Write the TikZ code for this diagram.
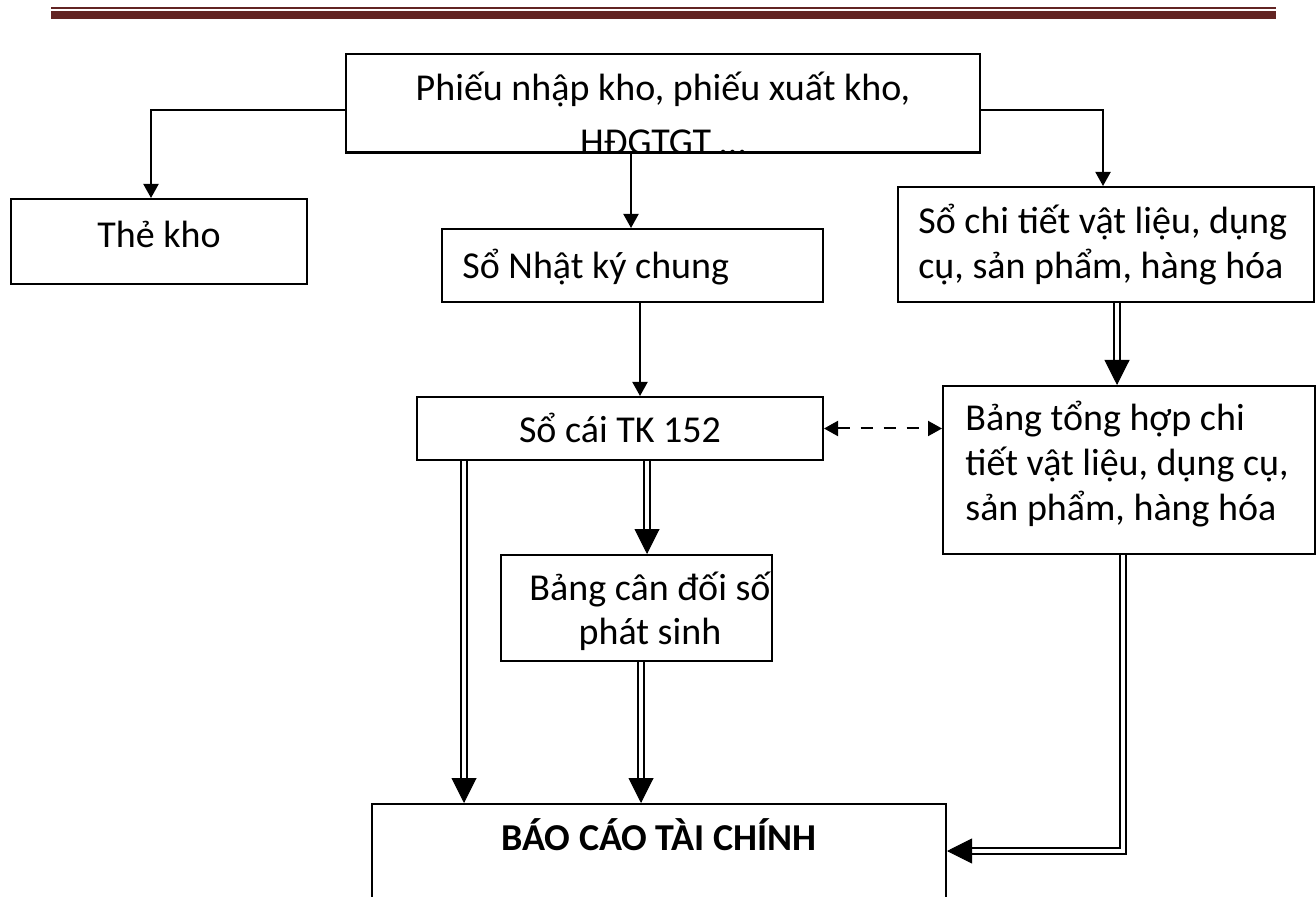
\documentclass[tikz,border=0pt]{standalone}
\usepackage{fontspec}
\setmainfont{Carlito}
\usetikzlibrary{arrows.meta}
\definecolor{rulecol}{RGB}{98,36,35}
\tikzset{
  box/.style={draw, line width=1pt, inner sep=0pt},
  txt/.style={inner sep=0pt, font=\fontsize{19pt}{23pt}\selectfont},
  arr/.style={line width=1pt, -{Triangle[length=7pt,width=7.5pt]}},
  dbl/.style={double, line width=1.1pt, double distance=1.7pt, shorten >=11pt},
  headD/.style={line width=0.5pt, -{Triangle[length=12.5pt,width=12.5pt]}},
  dsh/.style={line width=1pt, dash pattern=on 6pt off 5.5pt,
    {Triangle[length=7pt,width=7.5pt]}-{Triangle[length=7pt,width=7.5pt]}},
}
\begin{document}
\begin{tikzpicture}[x=0.5pt,y=-0.5pt]
\clip (0,0) rectangle (1316,897);
\fill[white] (0,0) rectangle (1316,897);
% header rule
\fill[rulecol] (51,7) rectangle (1276,9);
\fill[rulecol] (51,11) rectangle (1276,19.5);

% boxes
\node[box, minimum width=317pt, minimum height=49pt] (top) at (663,103) {};
\node[box, minimum width=148pt, minimum height=42.5pt] (the) at (159,241.5) {};
\node[box, minimum width=190.5pt, minimum height=36.5pt] (nkc) at (632.5,265.5) {};
\node[box, minimum width=208pt, minimum height=57.5pt] (sct) at (1106,244.5) {};
\node[box, minimum width=203pt, minimum height=31.5pt] (sc) at (620,428.5) {};
\node[box, minimum width=186pt, minimum height=84pt] (bth) at (1129,470) {};
\node[box, minimum width=135.5pt, minimum height=53pt] (bcd) at (636.5,608) {};
\node[box, minimum width=287pt, minimum height=66pt] (bctc) at (659,870) {};

% texts (the second line of the top box runs past its lower edge)
\begin{scope}
  \clip (top.south west) rectangle (top.north east);
  \node[txt, anchor=base] (top1) at (663,101) {Phiếu nhập kho, phiếu xuất kho,};
  \node[txt, anchor=base] (top2) at (663,155) {HĐGTGT …};
\end{scope}
\draw[line width=1pt] (top.south west) -- (top.south east);
\node[txt, anchor=base] (the1) at (159,248) {Thẻ kho};
\node[txt, anchor=base west] (nkc1) at (462,279) {Sổ Nhật ký chung};
\node[txt, anchor=base west] (sct1) at (918,234) {Sổ chi tiết vật liệu, dụng};
\node[txt, anchor=base west] (sct2) at (918,279) {cụ, sản phẩm, hàng hóa};
\node[txt, anchor=base] (sc1) at (620,443) {Sổ cái TK 152};
\node[txt, anchor=base west] (bth1) at (965,431) {Bảng tổng hợp chi};
\node[txt, anchor=base west] (bth2) at (965,476) {tiết vật liệu, dụng cụ,};
\node[txt, anchor=base west] (bth3) at (965,521) {sản phẩm, hàng hóa};
\node[txt, anchor=base] (bcd1) at (650,600) {Bảng cân đối số};
\node[txt, anchor=base] (bcd2) at (650,644) {phát sinh};
\node[txt, anchor=base, font=\fontsize{19pt}{23pt}\selectfont\bfseries] (bctc1) at (659,850) {BÁO CÁO TÀI CHÍNH};

% single connectors
\draw[arr] (top.west |- 0,110) -| (151,0 |- the.north);
\draw[arr] (top.east |- 0,110) -| (1103,0 |- sct.north);
\draw[arr] (631,0 |- top.south) -- (631,0 |- nkc.north);
\draw[arr] (640,0 |- nkc.south) -- (640,0 |- sc.north);
\draw[dsh] (sc.east) -- (sc.east -| bth.west);

% double connectors
\draw[dbl] (1117,0 |- sct.south) -- (1117,0 |- bth.north);
\draw[headD] (1117,0 |- bth.north) ++(0,-1) -- (1117,0 |- bth.north);
\draw[dbl] (647,0 |- sc.south) -- (647,0 |- bcd.north);
\draw[headD] (647,0 |- bcd.north) ++(0,-1) -- (647,0 |- bcd.north);
\draw[dbl] (464,0 |- sc.south) -- (464,0 |- bctc.north);
\draw[headD] (464,0 |- bctc.north) ++(0,-1) -- (464,0 |- bctc.north);
\draw[dbl] (641,0 |- bcd.south) -- (641,0 |- bctc.north);
\draw[headD] (641,0 |- bctc.north) ++(0,-1) -- (641,0 |- bctc.north);
\draw[dbl] (1123,0 |- bth.south) |- (bctc.east |- 0,851);
\draw[headD] (bctc.east |- 0,851) ++(1,0) -- (bctc.east |- 0,851);
\end{tikzpicture}
\end{document}
